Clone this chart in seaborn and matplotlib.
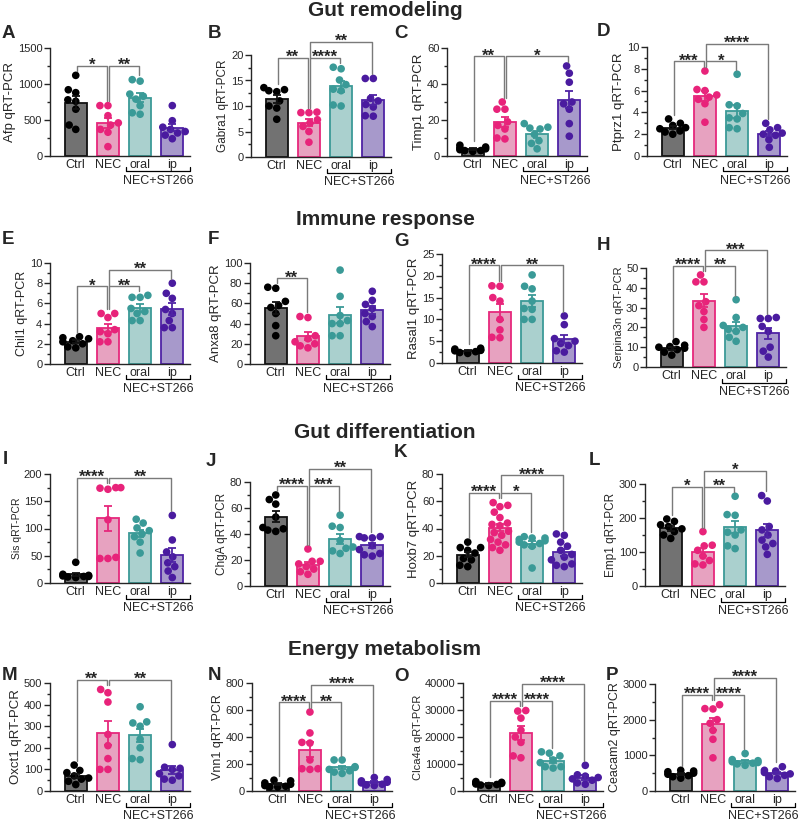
import numpy as np
import pandas as pd
import seaborn as sns
import matplotlib.pyplot as plt
from matplotlib.ticker import MultipleLocator, AutoMinorLocator

# groups: Ctrl, NEC, NEC+ST266 oral, NEC+ST266 ip
GROUPS = ['Ctrl', 'NEC', 'oral', 'ip']

# qRT-PCR values, one list per group
afp = [[1120, 920, 880, 780, 760, 650, 430, 370],
       [700, 700, 560, 460, 430, 370, 330, 130],
       [1060, 1040, 860, 830, 790, 700, 600, 580],
       [700, 490, 400, 370, 340, 320, 290, 240]]
gabra1 = [[13.6, 13.2, 13.0, 12.8, 11.0, 10.0, 9.6, 7.4],
          [8.8, 8.7, 8.7, 7.3, 6.7, 6.0, 5.0, 2.9],
          [17.6, 17.3, 15.1, 14.2, 13.3, 13.0, 10.2, 10.0],
          [15.4, 15.4, 11.5, 11.0, 10.3, 9.8, 8.0, 8.1]]
timp1 = [[6, 5, 4.5, 4, 3.5, 3, 3, 2.5],
         [30, 26, 26, 19, 17, 15, 10, 9.5],
         [18, 16, 15.5, 15, 12, 8.5, 7, 4],
         [50, 46, 41, 30, 29, 26, 18, 11]]
ptprz1 = [[3.4, 3.0, 2.8, 2.6, 2.5, 2.3, 2.2, 2.0],
          [7.8, 6.1, 6.0, 5.6, 5.4, 5.2, 4.8, 3.1],
          [7.5, 4.7, 4.6, 3.9, 3.5, 3.4, 2.6, 2.5],
          [3.0, 2.6, 2.4, 2.1, 2.0, 1.9, 1.5, 0.8]]
chil1 = [[2.7, 2.6, 2.5, 2.3, 2.2, 2.0, 1.7, 1.6],
         [5.0, 5.0, 4.6, 3.4, 3.2, 3.0, 2.2, 2.2],
         [6.8, 6.6, 6.6, 5.5, 5.2, 5.0, 4.3, 4.3],
         [8.0, 7.0, 6.5, 5.4, 5.0, 4.3, 3.6, 3.6]]
anxa8 = [[76, 75, 62, 58, 56, 50, 38, 28],
         [47, 46, 28, 25, 22, 20, 18, 16],
         [93, 67, 48, 43, 40, 40, 28, 28],
         [72, 63, 59, 55, 50, 47, 42, 37]]
rasal1 = [[3.4, 3.2, 3.0, 2.9, 2.8, 2.6, 2.4, 2.2],
          [17.7, 17.6, 15.0, 14.2, 10.0, 7.6, 5.9, 5.8],
          [20.2, 17.6, 17.0, 14.2, 12.5, 12.3, 10.0, 10.0],
          [10.8, 8.8, 5.6, 5.0, 4.5, 4.0, 2.8, 2.5]]
serpina3n = [[12.8, 11, 10.3, 10, 9.5, 8.8, 7.5, 6.0],
             [46.5, 43, 43, 33, 31, 28, 24, 20],
             [34, 25, 21, 20, 19, 18, 15, 13],
             [25, 24.5, 24.5, 20.5, 18, 10, 8, 5]]
sis = [[38, 16, 14, 13, 12, 12, 11, 10],
       [175, 175, 174, 172, 116, 47, 45, 45],
       [117, 110, 101, 96, 90, 85, 75, 55],
       [124, 79, 57, 48, 37, 30, 22, 10]]
chga = [[70, 66.5, 63, 53, 45, 43, 42, 44],
        [28.5, 19, 19, 17, 15, 13, 11, 9],
        [54.5, 46, 45, 35, 30, 29, 27, 25],
        [38, 38, 37, 37, 31, 28, 25, 24, 23]]
hoxb7 = [[30, 26, 26, 24, 22, 18, 17, 13, 12],
         [59, 57, 56, 52, 48, 44, 43, 42, 38, 37, 35, 32, 30, 28, 26, 24],
         [34, 33, 33, 32, 31, 30, 29, 28, 27, 11],
         [36, 35, 30, 27, 24, 21, 19, 17, 14, 13, 12]]
emp1 = [[197, 190, 180, 175, 168, 160, 150, 140],
        [160, 120, 118, 105, 88, 75, 65, 62],
        [264, 210, 208, 165, 158, 150, 118, 110],
        [266, 250, 175, 165, 150, 135, 125, 115, 93]]
oxct1 = [[120, 95, 85, 70, 60, 55, 45, 30],
         [470, 455, 412, 262, 210, 150, 100, 100],
         [390, 320, 315, 300, 240, 200, 150, 145],
         [215, 110, 105, 100, 80, 70, 55, 50]]
vnn1 = [[80, 75, 60, 50, 40, 35, 30, 30],
        [585, 430, 360, 355, 230, 165, 165, 160],
        [230, 230, 180, 175, 160, 150, 140, 130],
        [100, 85, 75, 65, 60, 50, 45, 40]]
clca4a = [[3500, 3200, 3000, 2800, 2600, 2400, 2200, 2000],
          [29800, 29600, 27000, 22500, 20000, 18000, 13000, 12300],
          [14500, 14000, 13000, 11500, 10500, 9000, 9000, 8500],
          [9500, 6000, 5500, 5000, 4500, 4000, 3000, 2500]]
ceacam2 = [[580, 560, 540, 500, 470, 430, 400, 360],
           [2420, 2310, 2300, 2000, 1900, 1700, 1450, 930],
           [1050, 880, 850, 820, 800, 780, 760, 720],
           [680, 580, 560, 520, 480, 440, 400, 350]]

# (letter, gene, values, y max, y step, comparisons (group i, group j, stars, level))
panels = [
    ('A', 'Afp', afp, 1500, 500, [(0, 1, '*', 1), (1, 2, '**', 1)]),
    ('B', 'Gabra1', gabra1, 20, 5, [(0, 1, '**', 1), (1, 2, '****', 1), (1, 3, '**', 2)]),
    ('C', 'Timp1', timp1, 60, 20, [(0, 1, '**', 1), (1, 3, '*', 1)]),
    ('D', 'Ptprz1', ptprz1, 10, 2, [(0, 1, '***', 1), (1, 2, '*', 1), (1, 3, '****', 2)]),
    ('E', 'Chil1', chil1, 10, 2, [(0, 1, '*', 1), (1, 2, '**', 1), (1, 3, '**', 2)]),
    ('F', 'Anxa8', anxa8, 100, 20, [(0, 1, '**', 1)]),
    ('G', 'Rasal1', rasal1, 25, 5, [(0, 1, '****', 1), (1, 3, '**', 1)]),
    ('H', 'Serpina3n', serpina3n, 50, 10, [(0, 1, '****', 1), (1, 2, '**', 1), (1, 3, '***', 2)]),
    ('I', 'Sis', sis, 200, 50, [(0, 1, '****', 1), (1, 3, '**', 1)]),
    ('J', 'ChgA', chga, 80, 20, [(0, 1, '****', 1), (1, 2, '***', 1), (1, 3, '**', 2)]),
    ('K', 'Hoxb7', hoxb7, 80, 20, [(0, 1, '****', 1), (1, 2, '*', 1), (1, 3, '****', 2)]),
    ('L', 'Emp1', emp1, 300, 100, [(0, 1, '*', 1), (1, 2, '**', 1), (1, 3, '*', 2)]),
    ('M', 'Oxct1', oxct1, 500, 100, [(0, 1, '**', 1), (1, 3, '**', 1)]),
    ('N', 'Vnn1', vnn1, 800, 200, [(0, 1, '****', 1), (1, 2, '**', 1), (1, 3, '****', 2)]),
    ('O', 'Clca4a', clca4a, 40000, 10000, [(0, 1, '****', 1), (1, 2, '****', 1), (1, 3, '****', 2)]),
    ('P', 'Ceacam2', ceacam2, 3000, 1000, [(0, 1, '****', 1), (1, 2, '****', 1), (1, 3, '****', 2)]),
]
sections = ['Gut remodeling', 'Immune response', 'Gut differentiation', 'Energy metabolism']

# layout in pixels of the 800x822 canvas
W, H = 800, 822
ax_left = [50, 251, 447, 647, 50, 250, 442, 646, 50, 250, 442, 645, 50, 252, 463, 655]
ax_bottom = [156, 157, 156, 156, 364, 364, 363, 367, 583, 586, 583, 586, 791, 791, 791, 791]
ax_height = [108, 102, 108, 109, 101, 101, 109, 99, 109, 104, 109, 102, 108, 108, 108, 107]
ax_width = 140
ylabel_size = [9.5, 8.5, 9.5, 9.5, 9, 9.5, 9.5, 8, 7.5, 8.5, 9.5, 8.5, 9.5, 9, 8, 9]
letter_xy = [(2, 34), (208, 34), (394, 33), (597, 32), (2, 239), (208, 240), (394, 242), (597, 245),
             (3, 459), (206, 461), (394, 452), (589, 460), (2, 675), (208, 675), (394, 676), (606, 675)]
section_y = [11, 219, 432, 649]

FILL = {'Ctrl': '#727272', 'NEC': '#f396bf', 'oral': '#a4d6d3', 'ip': '#a390d4'}
EDGE = ['#111111', '#e6287c', '#3c9a97', '#4f23a5']
DOTS = {'Ctrl': '#000000', 'NEC': '#e8237a', 'oral': '#3a9a97', 'ip': '#4a1b9f'}
BRACKET = '#7a7a7a'

sns.set_style('ticks')
plt.rcParams['font.family'] = ['Liberation Sans', 'DejaVu Sans']
plt.rcParams['axes.linewidth'] = 1.0

fig = plt.figure(figsize=(W / 100, H / 100), dpi=100)


def draw_panel(ax, gene, values, ymax, ystep, comps, h_px, lab_size):
    df = pd.DataFrame({
        'group': np.repeat(GROUPS, [len(v) for v in values]),
        'value': np.concatenate(values),
    })
    sns.barplot(data=df, x='group', y='value', order=GROUPS, hue='group',
                palette=FILL, errorbar=None, width=0.68, linewidth=1.3,
                legend=False, ax=ax, zorder=1)
    for patch, ec in zip(ax.patches, EDGE):
        patch.set_edgecolor(ec)
    sns.swarmplot(data=df, x='group', y='value', order=GROUPS, hue='group',
                  palette=DOTS, size=5.5, legend=False, ax=ax, zorder=3)

    stats = df.groupby('group')['value'].agg(['mean', 'sem']).reindex(GROUPS)
    for k, g in enumerate(GROUPS):
        ax.errorbar(k, stats.loc[g, 'mean'], yerr=stats.loc[g, 'sem'], color=EDGE[k],
                    capsize=3, elinewidth=1.3, capthick=1.3, zorder=4)

    ax.set_xlim(-0.8, 3.55)
    ax.set_ylim(0, ymax)
    ax.yaxis.set_major_locator(MultipleLocator(ystep))
    ax.yaxis.set_minor_locator(AutoMinorLocator(2))
    ax.tick_params(axis='y', which='major', length=4, width=1, labelsize=8, pad=1.5)
    ax.tick_params(axis='y', which='minor', length=2, width=1)
    ax.tick_params(axis='x', length=0, labelsize=9, pad=2)
    ax.set_xlabel('')
    ax.set_ylabel(f'{gene} qRT-PCR', fontsize=lab_size, labelpad=1.5)
    sns.despine(ax=ax)

    # NEC+ST266 group line under oral / ip
    trans = ax.get_xaxis_transform()
    y_line = -15.5 / h_px
    y_tick = -11.5 / h_px
    ax.plot([1.56, 1.56, 3.55, 3.55], [y_tick, y_line, y_line, y_tick], color='black',
            lw=0.9, transform=trans, clip_on=False)
    ax.text(2.55, -25 / h_px, 'NEC+ST266', transform=trans, ha='center', va='center',
            fontsize=9)

    # significance brackets
    tops = [max(v) for v in values]
    lvl1 = max(max(tops[i:j + 1]) for i, j, s, l in comps if l == 1) + 0.09 * ymax
    levels = {1: lvl1, 2: lvl1 + 0.16 * ymax}

    def leg_bottom(g, lev):
        lower = [levels[l2] for a, b, s2, l2 in comps if l2 < lev and g in (a, b)]
        return max(lower) if lower else tops[g] + 0.04 * ymax

    for i, j, star, lev in comps:
        y = levels[lev]
        xl, xr = i + 0.04, j - 0.04
        ax.plot([xl, xl, xr, xr], [leg_bottom(i, lev), y, y, leg_bottom(j, lev)],
                color=BRACKET, lw=1.0, clip_on=False, zorder=5)
        ax.annotate(star, xy=((i + j) / 2, y), xytext=(0, -3), textcoords='offset points',
                    ha='center', va='baseline', fontsize=12, fontweight='bold',
                    annotation_clip=False)


for n, (letter, gene, values, ymax, ystep, comps) in enumerate(panels):
    rect = [ax_left[n] / W, 1 - ax_bottom[n] / H, ax_width / W, ax_height[n] / H]
    ax = fig.add_axes(rect)
    draw_panel(ax, gene, values, ymax, ystep, comps, ax_height[n], ylabel_size[n])
    lx, ly = letter_xy[n]
    fig.text(lx / W, 1 - ly / H, letter, fontsize=13.5, fontweight='bold', ha='left', va='center')

for title, ty in zip(sections, section_y):
    fig.text(385 / W, 1 - ty / H, title, fontsize=15, fontweight='bold', ha='center', va='center')

fig.savefig('out.png', dpi=100, facecolor='white')
